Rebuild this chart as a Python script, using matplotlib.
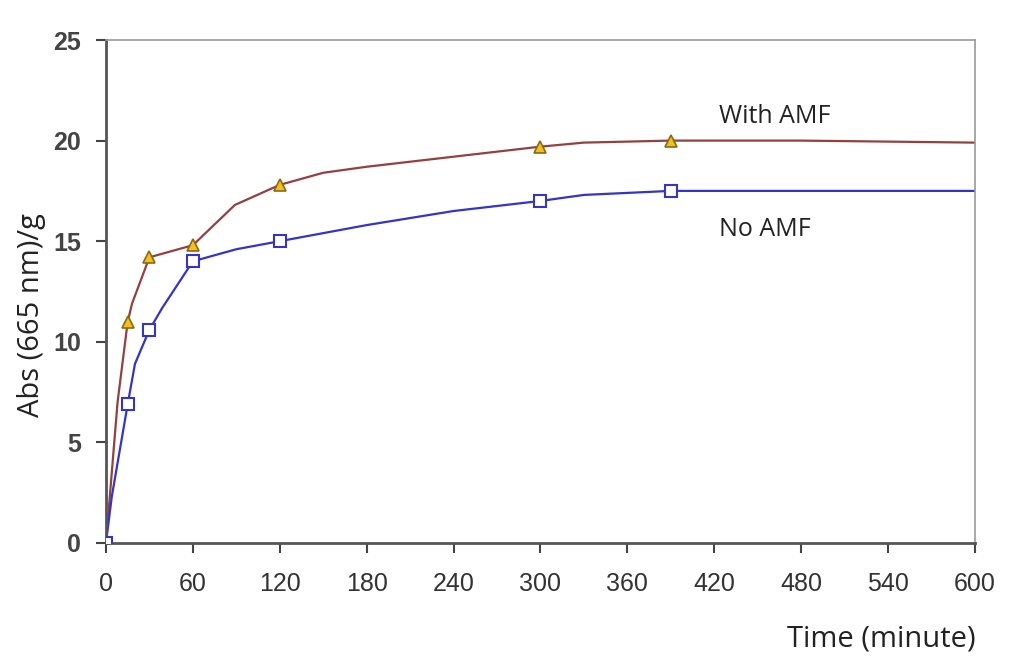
import matplotlib.pyplot as plt

# measured points (markers)
t_pts = [0, 15, 30, 60, 120, 300, 390]
with_amf = [0, 11.0, 14.2, 14.8, 17.8, 19.7, 20.0]
no_amf = [0, 6.9, 10.6, 14.0, 15.0, 17.0, 17.5]

# traced line through the points (as drawn in the original)
t_line_with = [0, 8, 15, 18, 30, 60, 89, 120, 150, 180, 240, 300, 330, 390, 480, 600]
y_line_with = [0, 7.0, 11.0, 11.9, 14.2, 14.8, 16.8, 17.8, 18.4, 18.7, 19.2, 19.7, 19.9, 20.0, 20.0, 19.9]
t_line_no = [0, 4, 15, 20, 30, 39, 60, 90, 120, 180, 240, 300, 330, 390, 600]
y_line_no = [0, 2.3, 6.9, 8.9, 10.6, 11.7, 14.0, 14.6, 15.0, 15.8, 16.5, 17.0, 17.3, 17.5, 17.5]

xticks = list(range(0, 601, 60))
yticks = [0, 5, 10, 15, 20, 25]

red = "#93403f"
blue = "#3434c8"

fig = plt.figure(figsize=(10.24, 6.67), dpi=100)
ax = fig.add_axes([0.1035, 0.186, 0.8485, 0.754])

ax.plot(t_line_with, y_line_with, color=red, lw=1.6, zorder=2)
ax.plot(t_line_no, y_line_no, color=blue, lw=1.6, zorder=2)
ax.plot(t_pts, with_amf, ls="none", marker="^", ms=9, mfc="#f2c01e", mec="#8a6a10", mew=1.2, zorder=3)
ax.plot(t_pts, no_amf, ls="none", marker="s", ms=9, mfc="white", mec=blue, mew=1.5, zorder=3)

ax.text(462, 21.2, "With AMF", fontsize=18, family="Open Sans", ha="center", va="center", color="#222222")
ax.text(455, 15.6, "No AMF", fontsize=18, family="Open Sans", ha="center", va="center", color="#222222")

ax.set_xlim(0, 600)
ax.set_ylim(0, 25)
ax.set_xticks(xticks)
ax.set_yticks(yticks)
ax.set_xticklabels([str(v) for v in xticks], family="Liberation Sans", fontsize=18, color="#333333")
ax.set_yticklabels([str(v) for v in yticks], family="Liberation Sans", fontweight="bold", fontsize=18, color="#444444")
ax.tick_params(axis="both", direction="out", length=7, width=1.5, color="#444444")
ax.tick_params(axis="x", pad=14)
ax.tick_params(axis="y", pad=11)

for s in ["left", "bottom"]:
    ax.spines[s].set_linewidth(2)
    ax.spines[s].set_color("#555555")
for s in ["top", "right"]:
    ax.spines[s].set_linewidth(1.2)
    ax.spines[s].set_color("#999999")

fig.text(0.031, 0.528, "Abs (665 nm)/g", rotation=90, fontsize=21, family="Open Sans", ha="center", va="center", color="#222222")
fig.text(0.861, 0.042, "Time (minute)", fontsize=21, family="Open Sans", ha="center", va="center", color="#222222")

fig.savefig("out.png", dpi=100)
